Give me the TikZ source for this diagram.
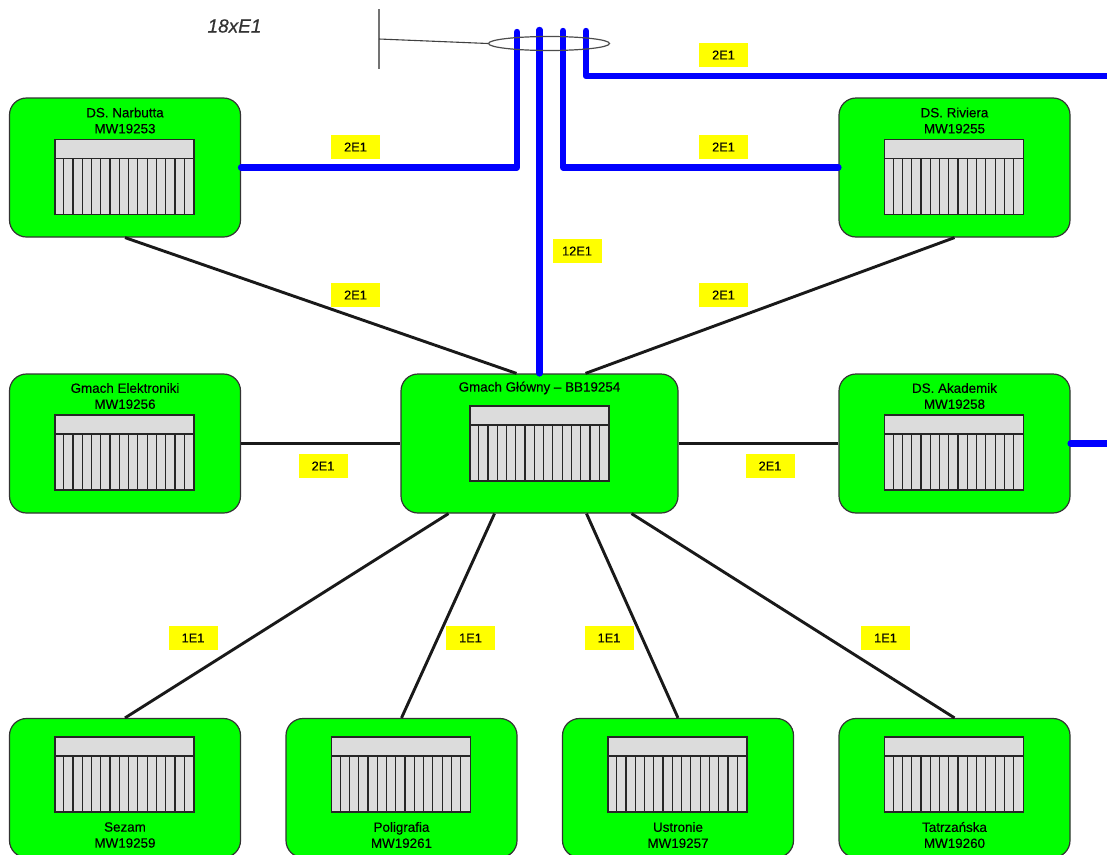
\documentclass[tikz,border=0pt]{standalone}
\usepackage{fontspec}
\setmainfont[FakeBold=0.25]{Liberation Sans}
\usetikzlibrary{shapes.geometric,calc}
\definecolor{sitegreen}{RGB}{0,255,0}
\definecolor{tagyellow}{RGB}{255,255,0}
\definecolor{trunkblue}{RGB}{0,0,255}
\definecolor{rackgray}{RGB}{220,220,220}
\begin{document}
\begin{tikzpicture}[
    x=1pt, y=-1pt,
    font=\fontsize{13.4}{16}\selectfont,
    site/.style={
      draw=black!80, fill=sitegreen, rounded corners=17pt, line width=1.2pt,
      minimum width=231pt, minimum height=139pt, inner sep=0pt
    },
    mainsite/.style={site, minimum width=277pt},
    sitetext/.style={align=center, inner sep=0pt},
    tag/.style={
      fill=tagyellow, minimum width=49pt, minimum height=24pt, inner sep=0pt,
      font=\fontsize{12.8}{16}\selectfont
    },
    link/.style={line width=2.9pt, black!90},
    trunk/.style={line width=6.4pt, trunkblue, line cap=round, line join=round},
    rackbody/.style={
      draw=black!85, fill=rackgray, line width=1.2pt,
      minimum width=139pt, minimum height=75pt, inner sep=0pt
    },
    rackhead/.style={rackbody, minimum height=19pt},
    rack/.pic={
      \node[rackbody] (-body) at (0,0) {};
      \node[rackhead, anchor=north] (-head) at (-body.north) {};
      \foreach \slot in {1,...,14}
        \draw[black!85, line width=1.2pt]
          ($(-head.south west)+(\slot*9.27,0)$) -- ($(-body.south west)+(\slot*9.27,0)$);
    }
  ]
    \clip (0,0) rectangle (1107,854);

    % sites
    \node[site] (narbutta) at (125,167.5) {};
    \node[site] (riviera) at (954.5,167.5) {};
    \node[site] (elektronika) at (125,443.5) {};
    \node[mainsite] (main) at (539.5,443.5) {};
    \node[site] (akademik) at (954.5,443.5) {};
    \node[site] (sezam) at (125,788) {};
    \node[site] (poligrafia) at (401.5,788) {};
    \node[site] (ustronie) at (678,788) {};
    \node[site] (tatrzanska) at (954.5,788) {};

    \pic (narbuttarack) at (124.5,177) {rack};
    \pic (rivierarack) at (954,177) {rack};
    \pic (elektronikarack) at (124.5,452.5) {rack};
    \pic (mainrack) at (539.5,443.5) {rack};
    \pic (akademikrack) at (954,452.5) {rack};
    \pic (sezamrack) at (124.5,774.5) {rack};
    \pic (poligrafiarack) at (401,774.5) {rack};
    \pic (ustronierack) at (677.5,774.5) {rack};
    \pic (tatrzanskarack) at (954,774.5) {rack};

    \node[sitetext] (narbuttatext) at (125,120.5) {DS. Narbutta\\MW19253};
    \node[sitetext] (rivieratext) at (954.5,120.5) {DS. Riviera\\MW19255};
    \node[sitetext] (elektronikatext) at (125,396) {Gmach Elektroniki\\MW19256};
    \node[sitetext] (maintext) at (539.5,388) {Gmach Główny – BB19254};
    \node[sitetext] (akademiktext) at (954.5,396) {DS. Akademik\\MW19258};
    \node[sitetext] (sezamtext) at (125,835) {Sezam\\MW19259};
    \node[sitetext] (poligrafiatext) at (401.5,835) {Poligrafia\\MW19261};
    \node[sitetext] (ustronietext) at (678,835) {Ustronie\\MW19257};
    \node[sitetext] (tatrzanskatext) at (954.5,835) {Tatrzańska\\MW19260};

    % black links
    \draw[link] (narbutta.south) -- ([xshift=-23pt]main.north);
    \draw[link] (riviera.south) -- ([xshift=46pt]main.north);
    \draw[link] (elektronika.east) -- (main.west);
    \draw[link] (main.east) -- (akademik.west);
    \draw[link] (sezam.north) -- ([xshift=-91pt]main.south);
    \draw[link] (poligrafia.north) -- ([xshift=-45pt]main.south);
    \draw[link] (ustronie.north) -- ([xshift=47pt]main.south);
    \draw[link] (tatrzanska.north) -- ([xshift=92pt]main.south);

    % blue trunks
    \coordinate (bundlea) at (517,32);
    \coordinate (bundleb) at (539.5,30);
    \coordinate (bundlec) at (563,31);
    \coordinate (bundled) at (586,31);
    \coordinate (outtop) at (1110,76);
    \coordinate (outside) at (1110,443.5);
    \draw[trunk] (narbutta.east) -| (bundlea);
    \draw[trunk] (bundleb) -- (main.north);
    \draw[trunk] (riviera.west) -| (bundlec);
    \draw[trunk] (bundled) |- (outtop);
    \draw[trunk] (akademik.east) -- (outside);

    % bundle and mast
    \node[draw=black!70, ellipse, line width=1.2pt, minimum width=121pt,
      minimum height=14pt, inner sep=0pt] (bundle) at (549,43.5) {};
    \coordinate (masttop) at (379,9);
    \coordinate (mastbottom) at (379,69);
    \coordinate (mastfoot) at (379,39);
    \draw[black!55, line width=1.4pt] (masttop) -- (mastbottom);
    \draw[black!75, line width=1.1pt] (mastfoot) -- (bundle.west);
    \node[font=\fontsize{19}{22}\selectfont\itshape\addfontfeature{FakeBold=0.6}, text=black!80, inner sep=0pt] (total) at (234.5,26) {18xE1};

    % capacity tags
    \node[tag] (tagnarbutta) at (355.5,147) {2E1};
    \node[tag] (tagout) at (723.5,55) {2E1};
    \node[tag] (tagriviera) at (723.5,147) {2E1};
    \node[tag] (tagmain) at (577,251) {12E1};
    \node[tag] (tagnarbuttab) at (355.5,295) {2E1};
    \node[tag] (tagrivierab) at (723.5,295) {2E1};
    \node[tag] (tagelektronika) at (323,466) {2E1};
    \node[tag] (tagakademik) at (770,466) {2E1};
    \node[tag] (tagsezam) at (193,638) {1E1};
    \node[tag] (tagpoligrafia) at (470.5,638) {1E1};
    \node[tag] (tagustronie) at (609,638) {1E1};
    \node[tag] (tagtatrzanska) at (885.5,638) {1E1};
  \end{tikzpicture}
\end{document}
